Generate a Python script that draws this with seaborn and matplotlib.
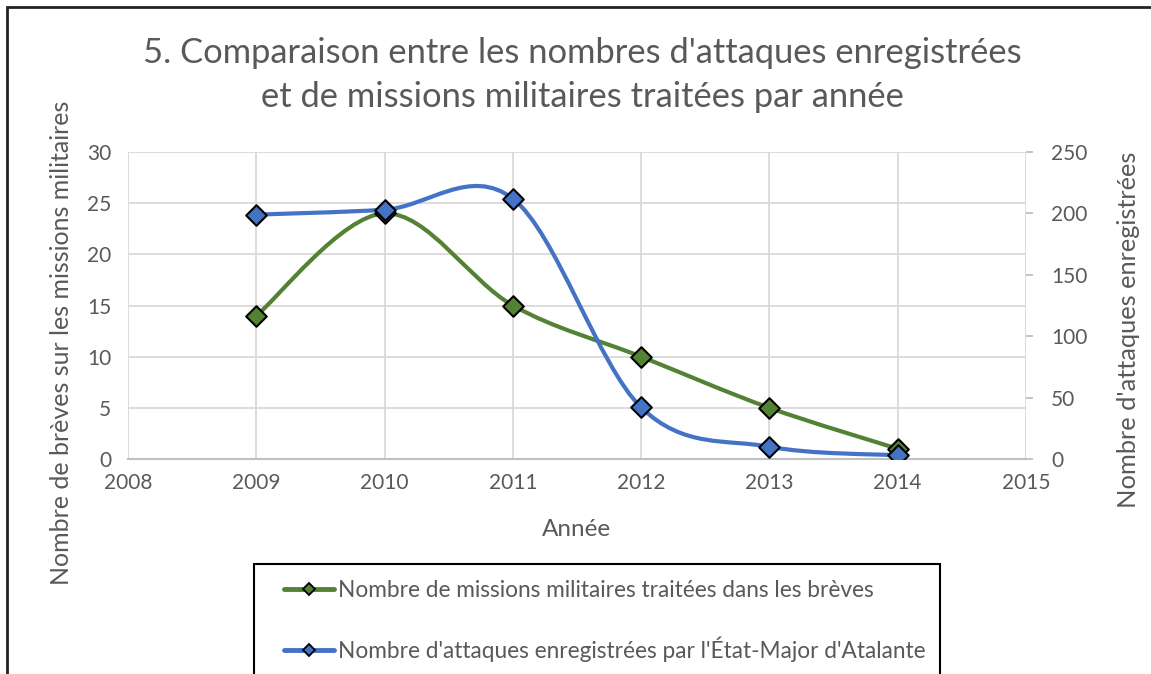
import matplotlib
matplotlib.use('Agg')
import matplotlib.pyplot as plt
import seaborn as sns
from matplotlib.path import Path
from matplotlib.patches import PathPatch, Rectangle
from matplotlib.lines import Line2D

# données
annees = [2009, 2010, 2011, 2012, 2013, 2014]
missions = [14, 24, 15, 10, 5, 1]
attaques = [199, 203, 212, 42, 10, 3]

lbl_missions = 'Nombre de missions militaires traitées dans les brèves'
lbl_attaques = "Nombre d'attaques enregistrées par l'État-Major d'Atalante"

VERT = '#548235'
BLEU = '#4472C4'
GRIS_TXT = '#595959'
W, H = 1151, 674


def courbe_lissee(xs, ys):
    # lissage type Excel : bezier avec tangentes de Catmull-Rom
    n = len(xs)
    verts = [(xs[0], ys[0])]
    codes = [Path.MOVETO]
    for i in range(n - 1):
        x0, y0 = (xs[i - 1], ys[i - 1]) if i > 0 else (xs[i], ys[i])
        x1, y1 = xs[i], ys[i]
        x2, y2 = xs[i + 1], ys[i + 1]
        x3, y3 = (xs[i + 2], ys[i + 2]) if i + 2 < n else (x2, y2)
        c1 = (x1 + (x2 - x0) / 6, y1 + (y2 - y0) / 6)
        c2 = (x2 - (x3 - x1) / 6, y2 - (y3 - y1) / 6)
        verts += [c1, c2, (x2, y2)]
        codes += [Path.CURVE4] * 3
    return Path(verts, codes)


sns.set_theme(style='white')
plt.rcParams['font.family'] = ['Lato', 'DejaVu Sans']

fig = plt.figure(figsize=(W / 100, H / 100), dpi=100)
ax1 = fig.add_axes([128 / W, 1 - 459 / H, (1026 - 128) / W, (459 - 152) / H])
ax2 = ax1.twinx()

# courbe verte (axe gauche)
ax1.add_patch(PathPatch(courbe_lissee(annees, missions), fill=False,
                        edgecolor=VERT, lw=3, zorder=3, capstyle='round'))
sns.scatterplot(x=annees, y=missions, marker='D', s=110, color=VERT,
                edgecolor='black', linewidth=1.5, ax=ax1, zorder=4, legend=False)

# courbe bleue (axe droit)
ax2.add_patch(PathPatch(courbe_lissee(annees, attaques), fill=False,
                        edgecolor=BLEU, lw=3, zorder=3, capstyle='round'))
sns.scatterplot(x=annees, y=attaques, marker='D', s=110, color=BLEU,
                edgecolor='black', linewidth=1.5, ax=ax2, zorder=4, legend=False)

ax1.set_xlim(2008, 2015)
ax1.set_ylim(0, 30)
ax2.set_ylim(0, 250)
ax1.set_xticks(range(2008, 2016))
ax1.set_yticks(range(0, 31, 5))
ax2.set_yticks(range(0, 251, 50))

ax1.grid(True, color='#d9d9d9', lw=1.3)
ax2.grid(False)
for sp in ['top', 'left', 'right']:
    ax1.spines[sp].set_visible(False)
    ax2.spines[sp].set_visible(False)
ax2.spines['bottom'].set_visible(False)
ax1.spines['bottom'].set_color('#bfbfbf')
ax1.spines['bottom'].set_linewidth(1.5)

ax1.tick_params(axis='both', length=0, labelsize=15, labelcolor=GRIS_TXT, pad=10)
ax1.tick_params(axis='y', pad=12)
ax2.tick_params(axis='y', length=5, color='#bfbfbf', width=1.3, direction='out',
                labelsize=15, labelcolor=GRIS_TXT, pad=13)

ax1.set_xlabel('')
ax1.set_ylabel('')
fig.text(576 / W, 1 - 530 / H, 'Année', ha='center', va='center', fontsize=17.5, color=GRIS_TXT)
fig.text(62 / W, 1 - 343 / H, 'Nombre de brèves sur les missions militaires', rotation=90,
         ha='center', va='center', fontsize=18, color=GRIS_TXT)
fig.text(1128 / W, 1 - 330 / H, "Nombre d'attaques enregistrées", rotation=90,
         ha='center', va='center', fontsize=18.3, color=GRIS_TXT)

fig.text(582 / W, 1 - 75 / H,
         "5. Comparaison entre les nombres d'attaques enregistrées\net de missions militaires traitées par année",
         ha='center', va='center', fontsize=24.8, color=GRIS_TXT, linespacing=1.45)

# légende avec cadre noir coupé en bas
handles = [Line2D([], [], color=VERT, lw=3.5, marker='D', ms=6.5, mfc=VERT, mec='black', mew=1.3),
           Line2D([], [], color=BLEU, lw=3.5, marker='D', ms=6.5, mfc=BLEU, mec='black', mew=1.3)]
fig.legend(handles, [lbl_missions, lbl_attaques], loc='center left',
           bbox_to_anchor=(264 / W, 1 - 621 / H), frameon=False, fontsize=16.3,
           labelcolor=GRIS_TXT, handlelength=2.2, handletextpad=0.18, labelspacing=1.55)
fig.add_artist(Rectangle((254 / W, -0.05), (940 - 254) / W, (1 - 564 / H) + 0.05,
                         transform=fig.transFigure, fill=False, edgecolor='black', lw=1.5))
fig.add_artist(Rectangle((7 / W, -0.05), 1.1, (1 - 7 / H) + 0.05,
                         transform=fig.transFigure, fill=False, edgecolor='#222222', lw=2))

fig.savefig('out.png', dpi=100)
plt.close(fig)
